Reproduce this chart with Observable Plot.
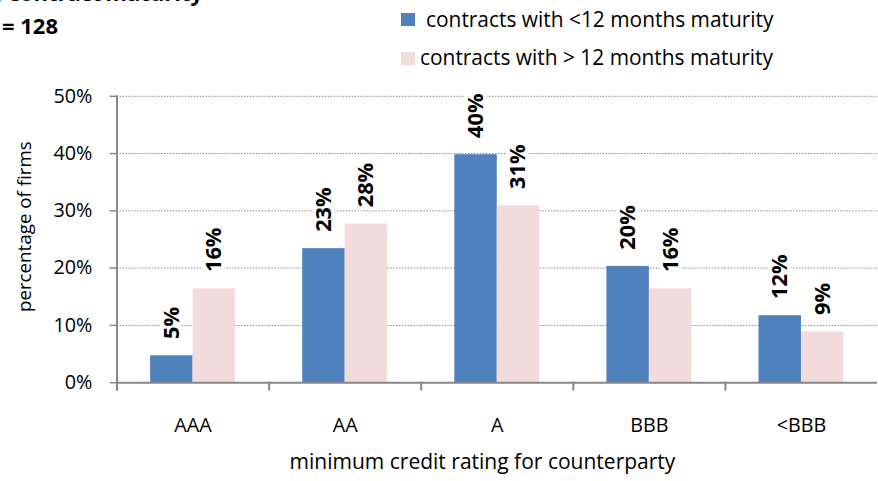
<!DOCTYPE html>
<html><head><meta charset="utf-8">
<script src="https://cdn.jsdelivr.net/npm/d3@7"></script>
<script src="https://cdn.jsdelivr.net/npm/@observablehq/plot@0.6"></script>
<style>
html,body{margin:0;padding:0;background:#fff;overflow:hidden;width:878px;height:481px}
#header{position:relative;height:80px;font-family:"Open Sans",sans-serif;color:#000}
.t{position:absolute;left:0;display:flex;justify-content:flex-end;white-space:nowrap;font-weight:bold;font-size:22px;line-height:22px}
.lg{position:absolute;font-size:20.9px;line-height:20px;white-space:nowrap}
.sw{position:absolute;width:14px;height:13px}
</style></head><body>
<div id="header"></div>
<div id="chart"></div>
<script>
const categories = ["AAA", "AA", "A", "BBB", "<BBB"];
const seriesNames = ["contracts with <12 months maturity", "contracts with > 12 months maturity"];
const shortTerm = [4.7, 23.4, 39.8, 20.3, 11.7];
const longTerm = [16.4, 27.7, 30.9, 16.4, 8.9];
const yTicks = [0, 10, 20, 30, 40, 50];
const colors = ["#4F81BD", "#F2DCDB"];
const titleLines = ["by contract maturity", "n = 128"];
const xTitle = "minimum credit rating for counterparty";
const yTitle = "percentage of firms";

// header: cropped title + legend
const header = document.getElementById("header");
const t1 = document.createElement("div");
t1.className = "t"; t1.style.top = "-19px"; t1.style.width = "203px"; t1.style.wordSpacing = "-2px"; t1.textContent = titleLines[0];
const t2 = document.createElement("div");
t2.className = "t"; t2.style.top = "13.5px"; t2.style.width = "58px"; t2.textContent = titleLines[1];
header.append(t1, t2);
const legendPos = [{sx: 401, sy: 13, tx: 426, ty: 9}, {sx: 401, sy: 52, tx: 420, ty: 46.5}];
seriesNames.forEach((s, i) => {
  const sw = document.createElement("div");
  sw.className = "sw"; sw.style.left = legendPos[i].sx + "px"; sw.style.top = legendPos[i].sy + "px"; sw.style.background = colors[i];
  const tx = document.createElement("div");
  tx.className = "lg"; tx.style.left = legendPos[i].tx + "px"; tx.style.top = legendPos[i].ty + "px"; tx.textContent = s;
  header.append(sw, tx);
});

const data = categories.flatMap((c, i) => [
  {cat: c, series: seriesNames[0], value: shortTerm[i]},
  {cat: c, series: seriesNames[1], value: longTerm[i]}
]);

const chart = Plot.plot({
  width: 889, height: 401,
  marginTop: 16, marginBottom: 95, marginLeft: 117, marginRight: 0,
  style: {fontFamily: "'Open Sans', sans-serif", fontSize: "20px", color: "#000", background: "#fff"},
  fx: {domain: categories, padding: 0, label: null},
  x: {domain: seriesNames, paddingInner: 0, paddingOuter: 0.77, axis: null},
  y: {domain: [0, 50]},
  color: {domain: seriesNames, range: colors},
  marks: [
    Plot.ruleY(yTicks.filter(d => d > 0), {stroke: "#868686", strokeDasharray: "1.5,1.5", strokeWidth: 1}),
    Plot.barY(data, {fx: "cat", x: "series", y: "value", fill: "series"}),
    Plot.text(data, {fx: "cat", x: "series", y: "value", text: d => Math.round(d.value) + "%",
      rotate: -90, textAnchor: "start", dy: -17, fontWeight: "bold", fontSize: 22,
      fill: "#000", stroke: "#fff", strokeWidth: 8}),
    Plot.ruleY([0], {stroke: "#868686", strokeWidth: 2}),
    Plot.frame({anchor: "left", stroke: "#868686", strokeWidth: 2, insetBottom: -7, facetAnchor: "left"}),
    Plot.frame({anchor: "left", stroke: "#868686", strokeWidth: 2, insetTop: 290, insetBottom: -7}),
    Plot.axisY(yTicks, {anchor: "left", tickSize: 7, tickPadding: 18, tickFormat: d => d + "%",
      stroke: "#868686", strokeWidth: 1.5, fill: "#000", label: null}),
    Plot.axisFx({anchor: "bottom", tickSize: 0, tickPadding: 36, fill: "#000", label: null}),
    Plot.text([xTitle], {frameAnchor: "bottom", facet: "super", textAnchor: "middle", lineAnchor: "top",
      dx: -15, dy: 72, fill: "#000", fontSize: 21.3}),
    Plot.text([yTitle], {frameAnchor: "left", textAnchor: "middle", lineAnchor: "middle", rotate: -90,
      dx: -93, dy: -13, facetAnchor: "left", fill: "#000", fontSize: 19})
  ]
});
document.getElementById("chart").append(chart);
</script>
</body></html>
